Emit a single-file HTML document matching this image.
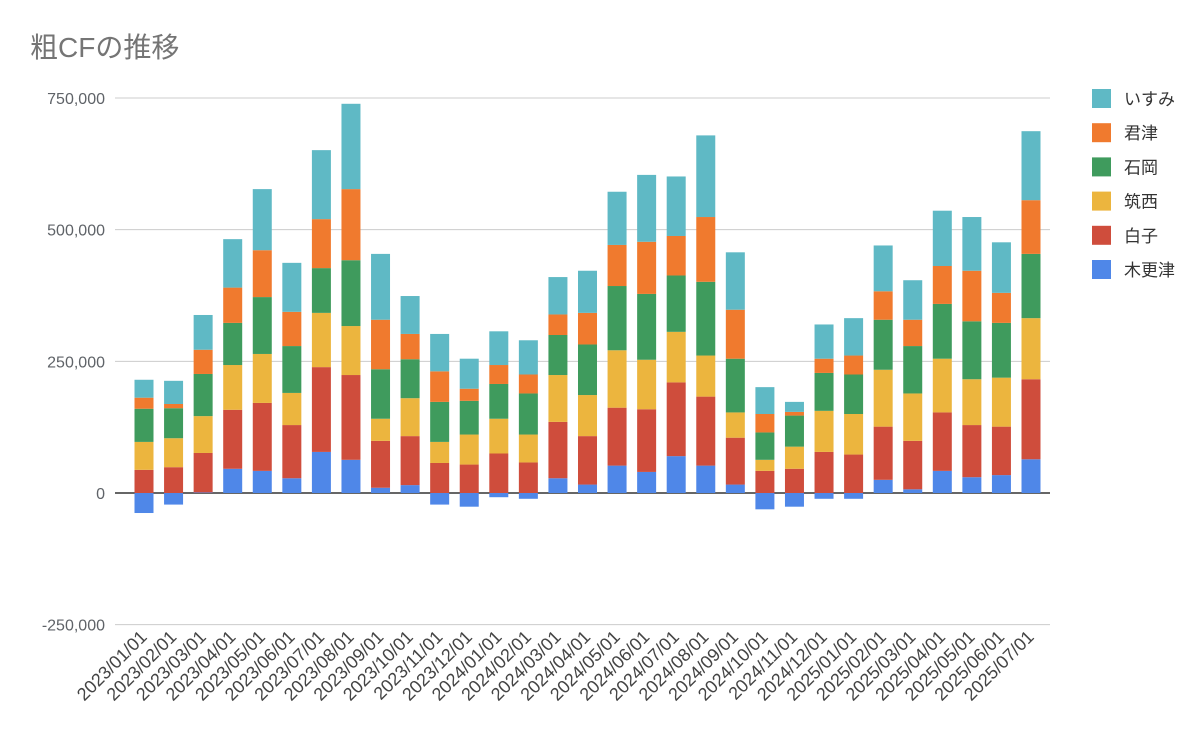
<!DOCTYPE html>
<html><head><meta charset="utf-8"><style>
body{margin:0;background:#fff;}
svg{display:block;font-family:"Liberation Sans","Noto Sans CJK JP",sans-serif;}
</style></head><body>
<svg id="c" width="1200" height="732">
<text x="30" y="57" font-size="28" fill="#757575">粗CFの推移</text>
<g id="grid"></g><g id="bars"></g><g id="xl"></g><g id="legend"></g>
</svg>
<script>
const categories=["2023/01/01","2023/02/01","2023/03/01","2023/04/01","2023/05/01","2023/06/01","2023/07/01","2023/08/01","2023/09/01","2023/10/01","2023/11/01","2023/12/01","2024/01/01","2024/02/01","2024/03/01","2024/04/01","2024/05/01","2024/06/01","2024/07/01","2024/08/01","2024/09/01","2024/10/01","2024/11/01","2024/12/01","2025/01/01","2025/02/01","2025/03/01","2025/04/01","2025/05/01","2025/06/01","2025/07/01"];
const seriesNames=["木更津","白子","筑西","石岡","君津","いすみ"];
const kisarazu=[-38000,-22000,1000,46000,42000,28000,78000,63000,10000,15000,-22000,-26000,-8000,-11000,28000,16000,52000,40000,70000,52000,16000,-31000,-26000,-11000,-11000,25000,7000,42000,30000,34000,64000];
const shiroko=[44000,49000,75000,112000,129000,101000,161000,161000,89000,93000,57000,54000,75000,58000,107000,92000,110000,119000,140000,131000,89000,42000,46000,78000,73000,101000,92000,111000,99000,92000,152000];
const chikusei=[53000,55000,70000,85000,93000,61000,103000,93000,42000,72000,40000,57000,66000,53000,89000,78000,109000,94000,96000,78000,48000,21000,42000,78000,77000,108000,90000,102000,87000,93000,116000];
const ishioka=[63000,57000,80000,80000,108000,89000,85000,125000,94000,74000,76000,64000,66000,78000,76000,96000,122000,125000,107000,140000,102000,52000,59000,72000,75000,95000,90000,104000,110000,104000,122000];
const kimitsu=[21000,8000,46000,67000,89000,65000,93000,135000,94000,48000,58000,23000,36000,36000,39000,60000,78000,99000,75000,123000,93000,35000,7000,27000,36000,54000,50000,72000,96000,57000,102000];
const isumi=[34000,44000,66000,92000,116000,93000,131000,162000,125000,72000,71000,57000,64000,65000,71000,80000,101000,127000,113000,155000,109000,51000,19000,65000,71000,87000,75000,105000,102000,96000,131000];
const yTicks=[750000,500000,250000,0,-250000];
const yTickLabels=["750,000","500,000","250,000","0","-250,000"];
const colors=["#4f87e8","#cf4d3c","#ecb53e","#3f9b5d","#f07a2e","#5fb9c5"];
const series=[kisarazu,shiroko,chikusei,ishioka,kimitsu,isumi];
const NS="http://www.w3.org/2000/svg";
const y0=493, pxPer=395/750000;
function yS(v){return y0-v*pxPer;}
const x0=144, step=(1031-144)/30, bw=19;
function xS(i){return x0+i*step;}
function mk(t,a,p){const e=document.createElementNS(NS,t);for(const k in a)e.setAttribute(k,a[k]);p.appendChild(e);return e;}
const grid=document.getElementById('grid');
yTicks.forEach((v,i)=>{
  const l=mk('line',{x1:115,x2:1050,y1:yS(v),y2:yS(v),stroke:v===0?'#333':'#ccc','stroke-width':v===0?1.5:1},grid);
  
  
  const t=mk('text',{x:105,y:yS(v)+6,'text-anchor':'end','font-size':16,fill:'#5f6368'},grid);
  t.textContent=yTickLabels[i];
  
  
});
const bars=document.getElementById('bars');
categories.forEach((c,i)=>{
  let pos=0,neg=0;
  series.forEach((s,k)=>{
    const v=s[i];let top,bot;
    if(v>=0){bot=yS(pos);pos+=v;top=yS(pos);}else{top=yS(neg);neg+=v;bot=yS(neg);}
    const r=mk('rect',{x:xS(i)-bw/2,y:top,width:bw,height:Math.max(0,bot-top),fill:colors[k]},bars);
    
    
  });
  const t=mk('text',{'text-anchor':'end','font-size':18,fill:'#444',transform:`translate(${xS(i)+4},${638}) rotate(-45)`},document.getElementById('xl'));
  t.textContent=c;
  
  
});
const lg=document.getElementById('legend');
for(let k=5;k>=0;k--){
  const row=5-k, y=98+row*34.2;
  const g=mk('g',{},lg);
  
  
  mk('rect',{x:1092,y:y-9,width:19,height:19,fill:colors[k]},g);
  const t=mk('text',{x:1124,y:y+7,'font-size':17,fill:'#333'},g);
  t.textContent=seriesNames[k];
}
</script>
</body></html>
